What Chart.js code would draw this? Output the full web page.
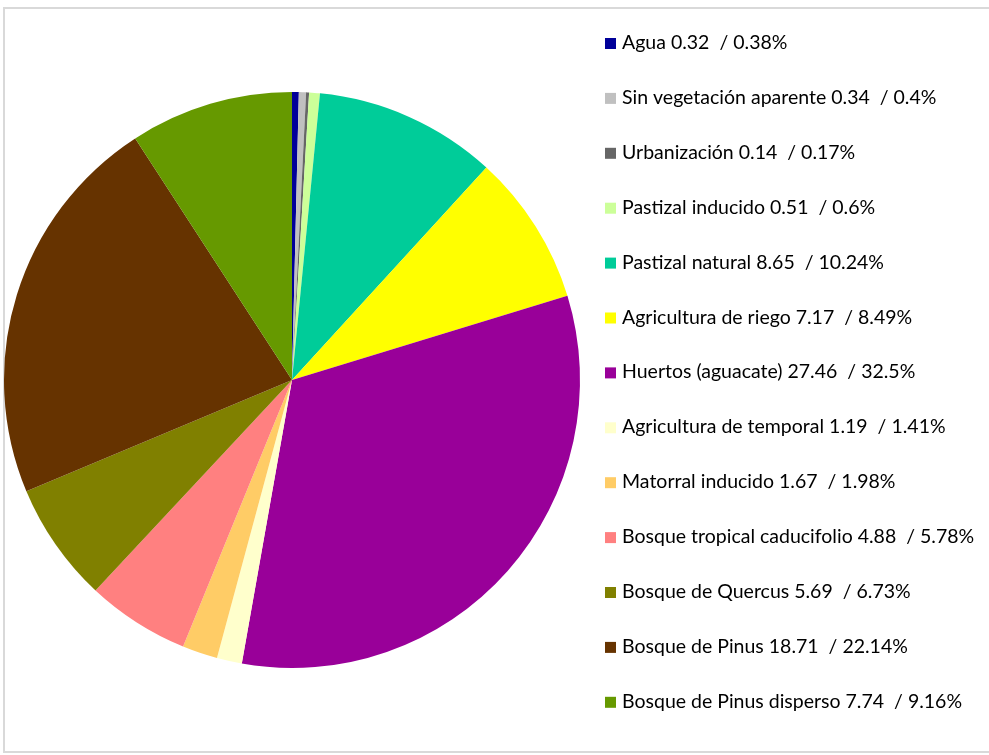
<!DOCTYPE html>
<html>
<head>
<meta charset="utf-8">
<script src="https://cdn.jsdelivr.net/npm/chart.js@4.4.1/dist/chart.umd.min.js"></script>
<style>
html,body{margin:0;padding:0;background:#fff;}
canvas{display:block;}
</style>
</head>
<body>
<canvas id="c" width="989" height="755"></canvas>
<script>
const categories = [
  "Agua", "Sin vegetación aparente", "Urbanización", "Pastizal inducido",
  "Pastizal natural", "Agricultura de riego", "Huertos (aguacate)",
  "Agricultura de temporal", "Matorral inducido", "Bosque tropical caducifolio",
  "Bosque de Quercus", "Bosque de Pinus", "Bosque de Pinus disperso"
];
const values = [0.32, 0.34, 0.14, 0.51, 8.65, 7.17, 27.46, 1.19, 1.67, 4.88, 5.69, 18.71, 7.74];
const percents = [0.38, 0.4, 0.17, 0.6, 10.24, 8.49, 32.5, 1.41, 1.98, 5.78, 6.73, 22.14, 9.16];
const colors = [
  "#000099", "#C0C0C0", "#666666", "#CCFF99", "#00CC99", "#FFFF00", "#990099",
  "#FFFFCC", "#FFCC66", "#FF8080", "#808000", "#663300", "#669900"
];

const legendLabels = categories.map((c, i) => c + " " + values[i] + "  / " + percents[i] + "%");

const framePlugin = {
  id: 'frame',
  beforeDraw(chart) {
    const ctx = chart.ctx;
    ctx.save();
    ctx.fillStyle = '#fff';
    ctx.fillRect(0, 0, chart.width, chart.height);
    ctx.fillStyle = '#D9D9D9';
    ctx.fillRect(3, 7, 990, 2);
    ctx.fillRect(3, 7, 2, 746);
    ctx.fillRect(3, 751, 990, 2);
    ctx.restore();
  }
};

const sideLegend = {
  id: 'sideLegend',
  afterDraw(chart) {
    const ctx = chart.ctx;
    const labels = chart.data.labels;
    const bg = chart.data.datasets[0].backgroundColor;
    ctx.save();
    ctx.font = '19.5px Lato, "Open Sans", sans-serif';
    ctx.textBaseline = 'alphabetic';
    ctx.textAlign = 'left';
    for (let i = 0; i < labels.length; i++) {
      const base = 49 + i * 54.9;
      ctx.fillStyle = bg[i];
      ctx.fillRect(605, base - 11, 11, 11);
      ctx.fillStyle = '#000';
      ctx.fillText(labels[i], 622, base);
    }
    ctx.restore();
  }
};

new Chart(document.getElementById('c'), {
  type: 'pie',
  data: {
    labels: legendLabels,
    datasets: [{
      data: values,
      backgroundColor: colors,
      borderWidth: 0
    }]
  },
  options: {
    responsive: false,
    animation: false,
    layout: { padding: { left: 4, top: 92, right: 409, bottom: 87 } },
    plugins: {
      legend: { display: false },
      tooltip: { enabled: false }
    }
  },
  plugins: [framePlugin, sideLegend]
});
</script>
</body>
</html>
